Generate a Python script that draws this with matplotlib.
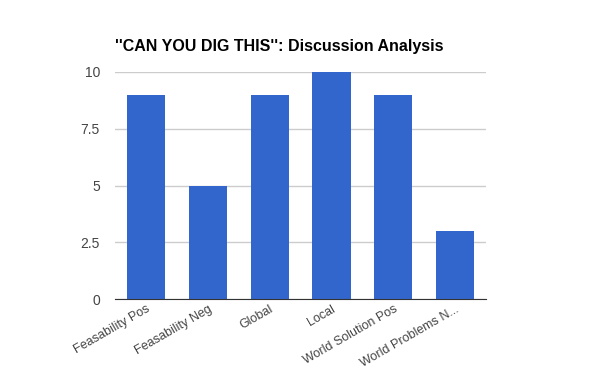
import matplotlib
matplotlib.use('Agg')
import matplotlib.pyplot as plt

plt.rcParams['font.family'] = ['Liberation Sans', 'DejaVu Sans']

# data
categories = ['Feasability Pos', 'Feasability Neg', 'Global', 'Local',
              'World Solution Pos', 'World Problems N...']
counts = [9, 5, 9, 10, 9, 3]
yticks = [0, 2.5, 5, 7.5, 10]
ytick_labels = ['0', '2.5', '5', '7.5', '10']

BAR_COLOR = '#3366cc'


def main():
    fig = plt.figure(figsize=(6.0, 3.71), dpi=100)
    ax = fig.add_axes([0.192, 0.194, 0.618, 0.612])

    x = range(len(categories))
    ax.bar(x, counts, width=0.62, color=BAR_COLOR, zorder=3)

    ax.set_xlim(-0.5, len(categories) - 0.5)
    ax.set_ylim(0, 10)
    ax.set_yticks(yticks)
    ax.set_yticklabels(ytick_labels)
    ax.grid(axis='y', color='#cccccc', linewidth=1, zorder=0)

    ax.set_xticks(list(x))
    ax.set_xticklabels(categories, rotation=30, ha='right',
                       rotation_mode='anchor')

    for side in ['top', 'right', 'left']:
        ax.spines[side].set_visible(False)
    ax.spines['bottom'].set_color('#333333')
    ax.spines['bottom'].set_zorder(4)

    ax.tick_params(axis='both', length=0, colors='#444444')
    ax.tick_params(axis='y', pad=11, labelsize=10)
    ax.tick_params(axis='x', pad=3, labelsize=9)

    fig.text(0.192, 0.855, "''CAN YOU DIG THIS'': Discussion Analysis",
             fontsize=11.5, fontweight='bold', color='#000000',
             ha='left', va='bottom')

    fig.savefig('out.png', dpi=100, facecolor='white')


if __name__ == '__main__':
    main()
